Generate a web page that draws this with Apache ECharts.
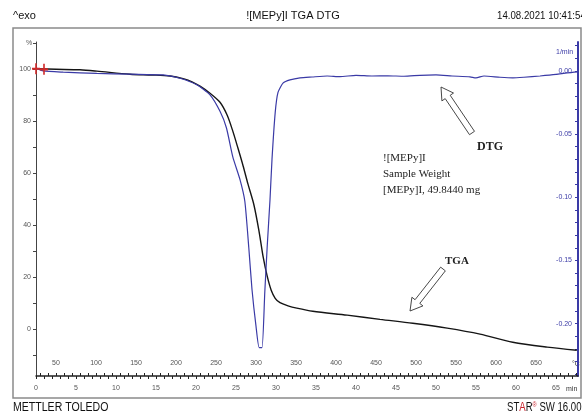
<!DOCTYPE html>
<html>
<head>
<meta charset="utf-8">
<script src="https://cdn.jsdelivr.net/npm/echarts@6/dist/echarts.min.js"></script>
<style>
  html, body { margin: 0; padding: 0; background: #fff; }
  #main { width: 582px; height: 416px; }
</style>
</head>
<body>
<div id="main"></div>
<script>
// TGA curve (black, %) against time in min
var tgaTime = [0, 2.5, 5.5, 7.6, 11.75, 14.5, 16.75, 18.5, 19.5, 20.5,
    21.75, 23, 23.9, 24.6, 25.25, 25.9, 26.5, 27.25, 27.9, 28.4,
    28.9, 29.4, 29.9, 30.5, 31.5, 32.6, 34.6, 38.9, 43, 47.1,
    51.4, 55.5, 59.6, 63.9, 67.6];
var tgaValue = [100.2, 100.0, 99.8, 99.3, 98.1, 97.8, 97.4, 96.3, 95.2, 93.5,
    90.8, 87.3, 82.3, 76.2, 69.6, 62.7, 55.8, 47.7, 37.3, 27.7,
    20.4, 15.0, 11.9, 10.2, 9.0, 8.1, 6.9, 5.4, 3.8, 2.3,
    0.4, -1.9, -5.0, -6.9, -8.1];

// DTG curve (blue, 1/min)
var dtgTime = [0, 0.9, 3.4, 7.6, 11.75, 15.9, 18, 20.1, 21.75, 23,
    23.8, 24.6, 25.5, 26.1, 26.6, 27, 27.5, 27.9, 28.25, 28.6,
    28.9, 29.25, 29.5, 29.9, 30.25, 30.9, 31.75, 33, 34.5, 36.4,
    38, 40, 42, 44, 46, 48, 50, 52, 54.25, 55,
    56, 58, 59.6, 61, 63, 65, 66.4, 67.75];
var dtgValue = [0.0024, 0, -0.001, -0.002, -0.0026, -0.0032, -0.0058, -0.011, -0.019, -0.032,
    -0.045, -0.068, -0.086, -0.103, -0.14, -0.173, -0.202, -0.219, -0.219, -0.175,
    -0.139, -0.102, -0.070, -0.033, -0.017, -0.0095, -0.0071, -0.0055, -0.0048, -0.004,
    -0.0045, -0.0035, -0.004, -0.0038, -0.0042, -0.0035, -0.0032, -0.004, -0.0047, -0.0055,
    -0.004, -0.005, -0.0055, -0.005, -0.004, -0.0028, -0.0016, -0.0008];

// tick labels
var timeLabels = [0, 5, 10, 15, 20, 25, 30, 35, 40, 45, 50, 55, 60, 65];
var tempLabels = [50, 100, 150, 200, 250, 300, 350, 400, 450, 500, 550, 600, 650];
var pctLabels = [0, 20, 40, 60, 80, 100];
var dtgLabels = [0, -0.05, -0.10, -0.15, -0.20];

function range(a, b, step) {
    var out = [];
    for (var v = a; v <= b + 1e-9; v += step) out.push(Math.round(v * 1000) / 1000);
    return out;
}

function zip(xs, ys) {
    return xs.map(function (x, i) { return [x, ys[i]]; });
}

// hollow arrow outline
function hollowArrow(tail, head) {
    var dx = head[0] - tail[0], dy = head[1] - tail[1];
    var len = Math.sqrt(dx * dx + dy * dy);
    var ux = dx / len, uy = dy / len, nx = -uy, ny = ux;
    var sw = 3, hw = 7, hl = 12;
    var bx = head[0] - ux * hl, by = head[1] - uy * hl;
    return [
        [tail[0] + nx * sw, tail[1] + ny * sw],
        [bx + nx * sw, by + ny * sw],
        [bx + nx * hw, by + ny * hw],
        head,
        [bx - nx * hw, by - ny * hw],
        [bx - nx * sw, by - ny * sw],
        [tail[0] - nx * sw, tail[1] - ny * sw]
    ];
}

var blue = '#3a3aa6';
var tickFont = {fontSize: 7, color: '#555', fontFamily: 'Liberation Sans'};

var myChart = echarts.init(document.getElementById('main'));

var option = {
    animation: false,
    grid: {left: 36, right: 4, top: 42, bottom: 40},
    xAxis: [
        {
            type: 'value',
            min: 0,
            max: 67.75,
            axisLine: {show: true, onZero: false, lineStyle: {color: '#222', width: 1.5}},
            axisTick: {show: true, length: 3, customValues: range(0, 67, 1), lineStyle: {color: '#222'}},
            axisLabel: Object.assign({customValues: timeLabels, margin: 9}, tickFont),
            splitLine: {show: false}
        },
        {
            type: 'value',
            min: 25,
            max: 702.5,
            position: 'bottom',
            axisLine: {show: false, onZero: false},
            axisTick: {show: true, inside: true, length: 3, customValues: range(30, 700, 10), lineStyle: {color: '#222'}},
            axisLabel: Object.assign({customValues: tempLabels, inside: true, margin: 9}, tickFont),
            splitLine: {show: false}
        }
    ],
    yAxis: [
        {
            type: 'value',
            min: -18,
            max: 110.5,
            axisLine: {show: true, onZero: false, lineStyle: {color: '#444', width: 1}},
            axisTick: {show: true, length: 3, customValues: range(-10, 110, 10), lineStyle: {color: '#444'}},
            axisLabel: Object.assign({customValues: pctLabels, margin: 5}, tickFont),
            splitLine: {show: false}
        },
        {
            type: 'value',
            min: -0.2415,
            max: 0.0229,
            position: 'right',
            axisLine: {show: true, onZero: false, lineStyle: {color: blue, width: 2}},
            axisTick: {show: true, inside: true, length: 3, customValues: range(-0.24, 0.02, 0.01), lineStyle: {color: blue}},
            axisLabel: {
                customValues: dtgLabels,
                inside: true,
                margin: 6,
                fontSize: 7,
                color: blue,
                fontFamily: 'Liberation Sans',
                formatter: function (v) { return v.toFixed(2); }
            },
            splitLine: {show: false}
        }
    ],
    series: [
        {
            name: 'TGA',
            type: 'line',
            xAxisIndex: 0,
            yAxisIndex: 0,
            smooth: 0.3,
            showSymbol: false,
            lineStyle: {color: '#151515', width: 1.4},
            data: zip(tgaTime, tgaValue),
            markPoint: {
                symbol: 'path://M4,0H6V4H10V6H6V10H4V6H0V4H4Z',
                symbolSize: [8, 11],
                itemStyle: {color: '#d02a2a'},
                label: {show: false},
                data: [{coord: [0, 100.2]}, {coord: [1, 100.0]}]
            }
        },
        {
            name: 'DTG',
            type: 'line',
            xAxisIndex: 0,
            yAxisIndex: 1,
            smooth: 0.2,
            showSymbol: false,
            lineStyle: {color: blue, width: 1.2},
            data: zip(dtgTime, dtgValue)
        }
    ],
    graphic: [
        {type: 'rect', shape: {x: 13, y: 28, width: 568, height: 370}, style: {fill: 'none', stroke: '#8a8a8a', lineWidth: 1.5}, silent: true},
        {type: 'text', x: 13, y: 10, style: {text: '^exo', fontSize: 11, fill: '#111', fontFamily: 'Liberation Sans'}},
        {type: 'text', x: 293, y: 10, style: {text: '![MEPy]I TGA DTG', fontSize: 11, fill: '#111', fontFamily: 'Liberation Sans', align: 'center'}},
        {type: 'text', x: 497, y: 10, scaleX: 0.88, style: {text: '14.08.2021 10:41:54', fontSize: 11, fill: '#111', fontFamily: 'Liberation Sans'}},
        {type: 'text', x: 13, y: 402, scaleX: 0.88, style: {text: 'METTLER TOLEDO', fontSize: 12, fill: '#111', fontFamily: 'Liberation Sans'}},
        {type: 'text', x: 507, y: 402, scaleX: 0.8, style: {
            text: '{a|ST}{r|A}{a|R}{s|®}{a| SW 16.00}',
            rich: {
                a: {fontSize: 12, fill: '#111', fontFamily: 'Liberation Sans'},
                r: {fontSize: 12, fill: '#c8202a', fontFamily: 'Liberation Sans'},
                s: {fontSize: 7, fill: '#c8202a', fontFamily: 'Liberation Sans', verticalAlign: 'top'}
            }
        }},
        {type: 'text', x: 26, y: 40, style: {text: '%', fontSize: 7, fill: '#555', fontFamily: 'Liberation Sans'}},
        {type: 'text', x: 556, y: 49, style: {text: '1/min', fontSize: 7, fill: blue, fontFamily: 'Liberation Sans'}},
        {type: 'text', x: 566, y: 386, style: {text: 'min', fontSize: 7, fill: '#333', fontFamily: 'Liberation Sans'}},
        {type: 'text', x: 572, y: 361, style: {text: '°C', fontSize: 7, fill: '#333', fontFamily: 'Liberation Sans'}},
        {type: 'text', x: 477, y: 141, style: {text: 'DTG', fontSize: 12, fontWeight: 'bold', fill: '#222', fontFamily: 'Liberation Serif'}},
        {type: 'text', x: 445, y: 256, style: {text: 'TGA', fontSize: 11, fontWeight: 'bold', fill: '#222', fontFamily: 'Liberation Serif'}},
        {type: 'text', x: 383, y: 150, style: {
            text: '![MEPy]I\nSample Weight\n[MEPy]I, 49.8440 mg',
            fontSize: 11, lineHeight: 16, fill: '#222', fontFamily: 'Liberation Serif'
        }},
        {type: 'polygon', shape: {points: hollowArrow([472, 133], [441, 87])}, style: {fill: '#fff', stroke: '#333', lineWidth: 0.9}},
        {type: 'polygon', shape: {points: hollowArrow([443, 269], [410, 311])}, style: {fill: '#fff', stroke: '#333', lineWidth: 0.9}}
    ]
};

myChart.setOption(option);
window.addEventListener('resize', function () {
    myChart.resize();
});
</script>
</body>
</html>
